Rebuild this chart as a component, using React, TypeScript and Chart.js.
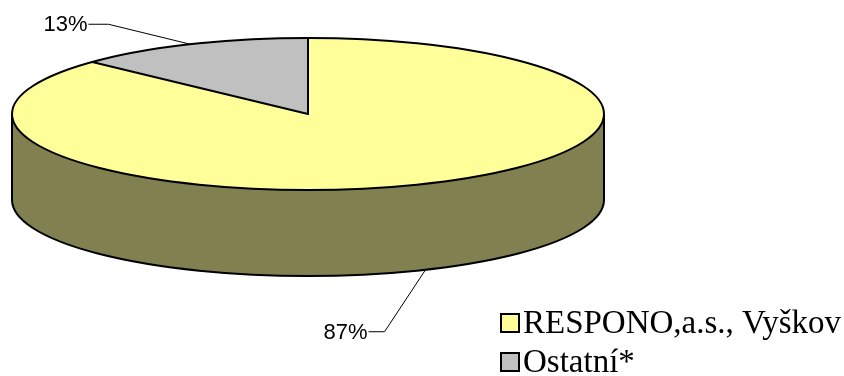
import React, { useEffect, useRef } from "react";
import { Chart, registerables } from "chart.js";

Chart.register(...registerables);

// ---- data ----
const categories: string[] = ["RESPONO,a.s., Vyškov", "Ostatní*"];
const shares: number[] = [87, 13];
const sliceColors: string[] = ["#FFFF99", "#C0C0C0"];
const sideColors: string[] = ["#808050", "#606060"];

// ---- layout ----
const W = 844;
const H = 376;
const RX = 296; // horizontal radius of the pie
const RY = 76; // vertical radius after tilt
const DEPTH = 86; // thickness of the pie
// leader-line elbow offsets relative to anchor, and horizontal tail length
const leader = [
  { dx: -41, dy: 62, tail: 16 },
  { dx: -82, dy: -20, tail: 20 },
];
const LEGEND_X = 501;
const LEGEND_Y = 314;
const LEGEND_BOX = 18;
const LEGEND_PITCH = 39;

const TAU = Math.PI * 2;

const pie3d = {
  id: "pie3d",
  beforeDatasetsDraw(chart: any) {
    const ctx: CanvasRenderingContext2D = chart.ctx;
    const arcs = chart.getDatasetMeta(0).data;
    const cx = arcs[0].x;
    const cy = arcs[0].y;
    const r = arcs[0].outerRadius;
    const ry = RY;
    ctx.save();
    arcs.forEach((arc: any, i: number) => {
      const s = arc.startAngle;
      const e = arc.endAngle;
      for (let k = -1; k <= 1; k++) {
        const lo = Math.max(s, k * TAU);
        const hi = Math.min(e, k * TAU + Math.PI);
        if (hi > lo) {
          ctx.beginPath();
          ctx.ellipse(cx, cy, r, ry, 0, lo, hi, false);
          ctx.ellipse(cx, cy + DEPTH, r, ry, 0, hi, lo, true);
          ctx.closePath();
          ctx.fillStyle = sideColors[i];
          ctx.fill();
        }
      }
    });
    ctx.restore();
    // flatten the top face
    ctx.save();
    ctx.translate(cx, cy);
    ctx.scale(1, ry / r);
    ctx.translate(-cx, -cy);
  },
  afterDatasetsDraw(chart: any) {
    const ctx: CanvasRenderingContext2D = chart.ctx;
    ctx.restore();
    const arcs = chart.getDatasetMeta(0).data;
    const cx = arcs[0].x;
    const cy = arcs[0].y;
    const r = arcs[0].outerRadius;
    const ry = RY;
    ctx.save();
    ctx.strokeStyle = "#000000";
    ctx.lineWidth = 2;
    ctx.lineJoin = "round";
    ctx.lineCap = "round";
    // side outline
    ctx.beginPath();
    ctx.moveTo(cx + r, cy);
    ctx.lineTo(cx + r, cy + DEPTH);
    ctx.ellipse(cx, cy + DEPTH, r, ry, 0, 0, Math.PI, false);
    ctx.lineTo(cx - r, cy);
    ctx.stroke();
    // top ellipse
    ctx.beginPath();
    ctx.ellipse(cx, cy, r, ry, 0, 0, TAU);
    ctx.stroke();
    // radial lines & side boundaries
    arcs.forEach((arc: any) => {
      const a = arc.startAngle;
      const px = cx + r * Math.cos(a);
      const py = cy + ry * Math.sin(a);
      ctx.beginPath();
      ctx.moveTo(cx, cy);
      ctx.lineTo(px, py);
      ctx.stroke();
      if (Math.sin(a) > 0.001) {
        ctx.beginPath();
        ctx.moveTo(px, py);
        ctx.lineTo(px, py + DEPTH);
        ctx.stroke();
      }
    });
    ctx.restore();

    // labels with leader lines
    const total = shares.reduce((p, v) => p + v, 0);
    ctx.save();
    ctx.lineWidth = 1;
    ctx.strokeStyle = "#000000";
    ctx.fillStyle = "#000000";
    ctx.font = '22px "Liberation Sans", Arial, sans-serif';
    ctx.textAlign = "right";
    ctx.textBaseline = "middle";
    arcs.forEach((arc: any, i: number) => {
      const mid = (arc.startAngle + arc.endAngle) / 2;
      const sn = Math.sin(mid);
      const ax = cx + r * Math.cos(mid);
      const ay = cy + ry * sn + (sn > 0 ? DEPTH : 0);
      const L = leader[i];
      const ex = ax + L.dx;
      const ey = ay + L.dy;
      ctx.beginPath();
      ctx.moveTo(ax, ay);
      ctx.lineTo(ex, ey);
      ctx.lineTo(ex - L.tail, ey);
      ctx.stroke();
      const pct = Math.round((shares[i] / total) * 100) + "%";
      ctx.fillText(pct, ex - L.tail - 1, ey + 1);
    });
    ctx.restore();
  },
  afterDraw(chart: any) {
    const ctx: CanvasRenderingContext2D = chart.ctx;
    ctx.save();
    ctx.font = '33px "Liberation Serif", "Times New Roman", serif';
    ctx.textAlign = "left";
    ctx.textBaseline = "alphabetic";
    categories.forEach((label, i) => {
      const y = LEGEND_Y + i * LEGEND_PITCH;
      ctx.fillStyle = sliceColors[i];
      ctx.fillRect(LEGEND_X, y, LEGEND_BOX, LEGEND_BOX);
      ctx.strokeStyle = "#000000";
      ctx.lineWidth = 2;
      ctx.strokeRect(LEGEND_X, y, LEGEND_BOX, LEGEND_BOX);
      ctx.fillStyle = "#000000";
      ctx.fillText(label, LEGEND_X + LEGEND_BOX + 4, y + LEGEND_BOX + 1);
    });
    ctx.restore();
  },
};

export default function App() {
  const ref = useRef<HTMLCanvasElement | null>(null);
  useEffect(() => {
    if (!ref.current) return;
    const chart = new Chart(ref.current, {
      type: "pie",
      data: {
        labels: categories,
        datasets: [
          {
            data: shares,
            backgroundColor: sliceColors,
            borderWidth: 0,
            clip: false,
          } as any,
        ],
      },
      options: {
        responsive: false,
        animation: false,
        devicePixelRatio: 1,
        events: [],
        radius: RX,
        rotation: 0,
        layout: { padding: { left: 12, right: 240, top: 38, bottom: 186 } },
        plugins: {
          legend: { display: false },
          tooltip: { enabled: false },
          title: { display: false },
        },
      } as any,
      plugins: [pie3d],
    });
    return () => chart.destroy();
  }, []);
  return (
    <div style={{ position: "fixed", left: 0, top: 0, width: W, height: H, background: "#ffffff" }}>
      <canvas ref={ref} width={W} height={H} style={{ display: "block", width: W, height: H }} />
    </div>
  );
}
